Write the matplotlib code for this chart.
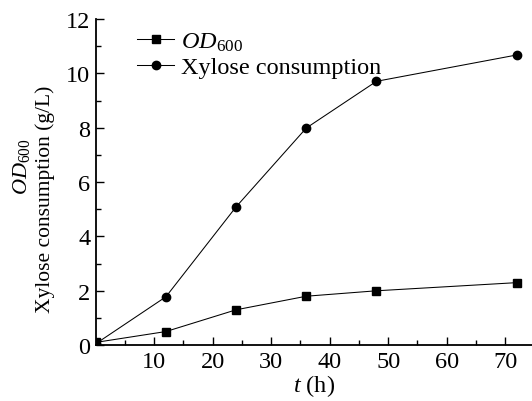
import numpy as np
import matplotlib
matplotlib.use('Agg')
import matplotlib.pyplot as plt
from matplotlib import rc
from matplotlib.ticker import MultipleLocator

rc('font', family='Liberation Serif', size=17.5)
rc('mathtext', fontset='custom', rm='Liberation Serif',
   it='Liberation Serif:italic', bf='Liberation Serif:bold')

time_h = [0, 12, 24, 36, 48, 72]
od600 = [0.1, 0.5, 1.3, 1.8, 2.0, 2.3]
xylose = [0.05, 1.78, 5.09, 7.99, 9.71, 10.68]

fig = plt.figure(figsize=(5.32, 4.02), dpi=100)
ax = fig.add_axes([0.180, 0.139, 0.820, 0.811])

ax.plot(time_h, od600, color='black', lw=0.75, marker='s', ms=5.2,
        label=r'$\mathit{OD}_{\mathrm{600}}$')
ax.plot(time_h, xylose, color='black', lw=0.75, marker='o', ms=6,
        label='Xylose consumption')

ax.set_xlim(0, 74.6)
ax.set_ylim(0, 12)
ax.set_xticks([10, 20, 30, 40, 50, 60, 70])
ax.xaxis.set_minor_locator(MultipleLocator(5))
ax.yaxis.set_major_locator(MultipleLocator(2))
ax.yaxis.set_minor_locator(MultipleLocator(1))
ax.tick_params(which='both', direction='in', width=1.0)
ax.tick_params(which='major', length=6, pad=4)
ax.tick_params(which='minor', length=3.5)
ax.spines['top'].set_visible(False)
ax.spines['right'].set_visible(False)
ax.spines['left'].set_linewidth(1.3)
ax.spines['bottom'].set_linewidth(1.3)

ax.set_xlabel(r'$t$ (h)', labelpad=0)
fig.text(0.040, 0.585, r'$\mathit{OD}_{\mathrm{600}}$', rotation=90,
         ha='center', va='center', fontsize=16)
fig.text(0.085, 0.505, 'Xylose consumption (g/L)', rotation=90,
         ha='center', va='center', fontsize=15.5)

ax.legend(loc='upper left', bbox_to_anchor=(0.062, 1.01), frameon=False,
          handlelength=1.5, handletextpad=0.3, borderaxespad=0.2,
          labelspacing=0.15)

fig.savefig('out.png', dpi=100)
